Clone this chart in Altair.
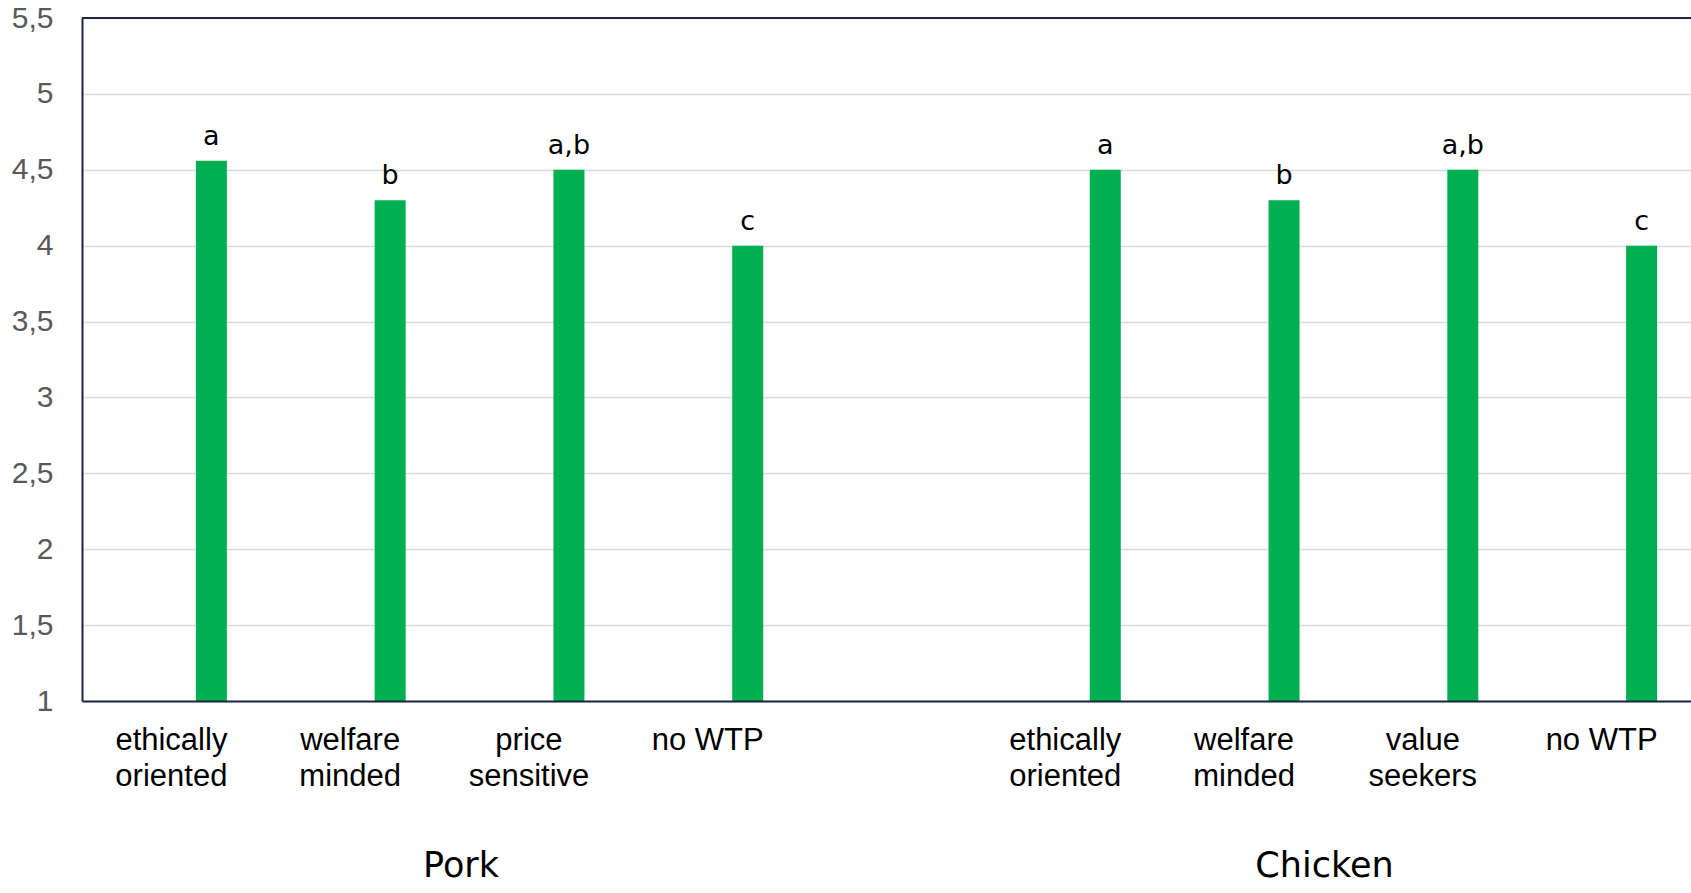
import altair as alt
import pandas as pd

# Mean scores per consumer segment, with significance letters
groups = ["Pork", "Chicken"]
pork_segments = ["ethically\noriented", "welfare\nminded", "price\nsensitive", "no WTP"]
chicken_segments = ["ethically\noriented", "welfare\nminded", "value\nseekers", "no WTP"]
pork_means = [4.56, 4.30, 4.50, 4.00]
chicken_means = [4.50, 4.30, 4.50, 4.00]
pork_letters = ["a", "b", "a,b", "c"]
chicken_letters = ["a", "b", "a,b", "c"]
y_ticks = [1, 1.5, 2, 2.5, 3, 3.5, 4, 4.5, 5, 5.5]

rows = []
for g, segs, means, letters in [
    ("Pork", pork_segments, pork_means, pork_letters),
    ("Chicken", chicken_segments, chicken_means, chicken_letters),
]:
    for s, m, l in zip(segs, means, letters):
        rows.append({"key": f"{g}|{s}", "mean": m, "letter": l})
df = pd.DataFrame(rows)

# Category order: four pork segments, an empty spacer slot, four chicken segments
domain = [f"Pork|{s}" for s in pork_segments] + ["|"] + [f"Chicken|{s}" for s in chicken_segments]

W, H = 1609, 683
NAVY = "#1c2541"
GREEN = "#00b050"

x_scale = alt.Scale(domain=domain, paddingInner=0, paddingOuter=0)
y_scale = alt.Scale(domain=[1, 5.5], zero=False, nice=False)

x_axis = alt.Axis(
    title=None,
    labelExpr="split(split(datum.value, '|')[1], '\\n')",
    labelAngle=0,
    labelFont="Liberation Sans",
    labelFontSize=31,
    labelColor="#000000",
    labelLineHeight=36,
    labelPadding=24,
    labelBaseline="top",
    labelLimit=300,
    ticks=False,
    tickSize=0,
    grid=False,
    domainColor=NAVY,
    domainWidth=2,
    zindex=1,
)
y_axis = alt.Axis(
    title=None,
    values=y_ticks,
    format="~g",
    labelExpr="replace(datum.label, '.', ',')",
    labelFont="Liberation Sans",
    labelFontSize=30,
    labelColor="#595959",
    labelPadding=29,
    labelOverlap=False,
    labelFlush=False,
    ticks=False,
    tickSize=0,
    grid=True,
    gridColor="#d9d9d9",
    gridWidth=1.5,
    domainColor=NAVY,
    domainWidth=2,
)

base = alt.Chart(df)

bars = base.mark_bar(color=GREEN, width=31, xOffset=40).encode(
    x=alt.X("key:N", scale=x_scale, axis=x_axis, sort=domain),
    y=alt.Y("mean:Q", scale=y_scale, axis=y_axis),
    y2=alt.datum(1),
)

letters = base.mark_text(
    font="DejaVu Sans", fontSize=27, color="#000000",
    baseline="alphabetic", align="center", xOffset=40, dy=-16,
).encode(
    x=alt.X("key:N", scale=x_scale, sort=domain),
    y=alt.Y("mean:Q", scale=y_scale),
    text="letter:N",
)

top_border = alt.Chart(pd.DataFrame({"v": [5.5]})).mark_rule(
    color=NAVY, strokeWidth=2
).encode(
    y=alt.Y("v:Q", scale=y_scale),
    x=alt.value(0),
    x2=alt.value(W),
)


def group_caption(name, anchor, band_pos):
    """Group caption under the segment labels, placed on the category band scale."""
    return alt.Chart(pd.DataFrame({"group": [name], "anchor": [anchor]})).mark_text(
        font="DejaVu Sans", fontSize=35, color="#000000",
        baseline="alphabetic", align="center",
    ).encode(
        x=alt.X("anchor:N", scale=x_scale, sort=domain, bandPosition=band_pos),
        y=alt.value(859),
        text="group:N",
    )


pork_caption = group_caption(groups[0], f"Pork|{pork_segments[2]}", 0.12)
chicken_caption = group_caption(groups[1], f"Chicken|{chicken_segments[1]}", 0.95)

chart = alt.layer(bars, letters, top_border, pork_caption, chicken_caption).properties(
    width=W,
    height=H,
    autosize=alt.AutoSizeParams(type="none"),
    padding={"left": 82, "top": 18, "right": 0, "bottom": 192},
).configure_view(stroke=None).configure(background="white")

chart.save("out.html", embed_options={"renderer": "svg", "actions": False})
